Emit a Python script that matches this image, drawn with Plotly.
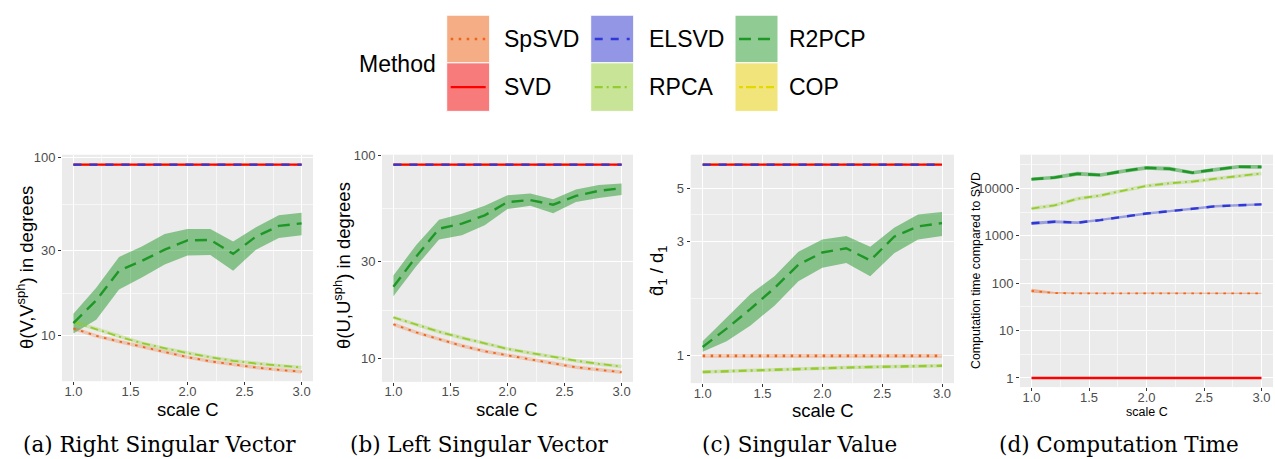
import plotly.graph_objects as go

W, H = 1275, 459

# ---------------- data ----------------
scale_C = [1.0, 1.2, 1.4, 1.6, 1.8, 2.0, 2.2, 2.4, 2.6, 2.8, 3.0]

x_ticks = [1.0, 1.5, 2.0, 2.5, 3.0]
x_tick_labels = ["1.0", "1.5", "2.0", "2.5", "3.0"]

# (a) Right singular vector angle (degrees)
a_svd = [91.0, 91.0, 91.0, 91.0, 91.0, 91.0, 91.0, 91.0, 91.0, 91.0, 91.0]
a_elsvd = [91.0, 91.0, 91.0, 91.0, 91.0, 91.0, 91.0, 91.0, 91.0, 91.0, 91.0]
a_cop = [91.0, 91.0, 91.0, 91.0, 91.0, 91.0, 91.0, 91.0, 91.0, 91.0, 91.0]
a_rpca = [12.0, 10.9, 9.9, 9.1, 8.5, 8.0, 7.6, 7.25, 7.0, 6.8, 6.65]
a_spsvd = [11.0, 10.0, 9.3, 8.7, 8.1, 7.6, 7.2, 6.9, 6.65, 6.45, 6.3]
a_r2pcp = [11.8, 15.8, 23.2, 26.3, 30.4, 34.3, 34.5, 28.8, 36.0, 41.3, 42.7]
a_r2pcp_lo = [10.3, 12.3, 18.2, 21.2, 25.1, 28.2, 28.4, 23.2, 30.4, 35.3, 36.6]
a_r2pcp_hi = [13.3, 18.6, 27.7, 31.7, 37.2, 39.7, 39.7, 33.8, 40.6, 47.4, 48.9]
a_ticks = [10, 30, 100]
a_tick_labels = ["10", "30", "100"]

# (b) Left singular vector angle (degrees)
b_svd = [90.0, 90.0, 90.0, 90.0, 90.0, 90.0, 90.0, 90.0, 90.0, 90.0, 90.0]
b_elsvd = [90.0, 90.0, 90.0, 90.0, 90.0, 90.0, 90.0, 90.0, 90.0, 90.0, 90.0]
b_cop = [90.0, 90.0, 90.0, 90.0, 90.0, 90.0, 90.0, 90.0, 90.0, 90.0, 90.0]
b_rpca = [16.0, 14.7, 13.6, 12.7, 11.9, 11.2, 10.7, 10.2, 9.8, 9.45, 9.17]
b_spsvd = [14.8, 13.5, 12.5, 11.6, 10.9, 10.4, 9.9, 9.5, 9.1, 8.85, 8.6]
b_r2pcp = [22.6, 31.8, 43.6, 46.2, 50.7, 58.9, 60.3, 57.2, 63.2, 66.9, 69.0]
b_r2pcp_lo = [20.3, 28.5, 38.6, 40.5, 45.3, 54.5, 56.5, 52.0, 58.9, 61.7, 63.9]
b_r2pcp_hi = [25.7, 36.3, 48.3, 51.6, 56.6, 63.6, 65.0, 60.9, 68.0, 71.4, 72.8]
b_ticks = [10, 30, 100]
b_tick_labels = ["10", "30", "100"]

# (c) Singular value ratio
c_svd = [6.28, 6.28, 6.28, 6.28, 6.28, 6.28, 6.28, 6.28, 6.28, 6.28, 6.28]
c_elsvd = [6.28, 6.28, 6.28, 6.28, 6.28, 6.28, 6.28, 6.28, 6.28, 6.28, 6.28]
c_cop = [6.28, 6.28, 6.28, 6.28, 6.28, 6.28, 6.28, 6.28, 6.28, 6.28, 6.28]
c_rpca = [0.857, 0.864, 0.871, 0.877, 0.883, 0.889, 0.894, 0.899, 0.903, 0.907, 0.91]
c_spsvd = [1.0, 1.0, 1.0, 1.0, 1.0, 1.0, 1.0, 1.0, 1.0, 1.0, 1.0]
c_r2pcp = [1.09, 1.30, 1.57, 1.92, 2.40, 2.70, 2.81, 2.50, 3.14, 3.47, 3.58]
c_r2pcp_lo = [1.04, 1.15, 1.34, 1.62, 2.05, 2.33, 2.44, 2.15, 2.68, 3.06, 3.16]
c_r2pcp_hi = [1.15, 1.45, 1.81, 2.15, 2.72, 3.06, 3.16, 2.85, 3.42, 3.89, 3.98]
c_ticks = [1, 3, 5]
c_tick_labels = ["1", "3", "5"]

# (d) Computation time relative to SVD
d_svd = [1.0, 1.0, 1.0, 1.0, 1.0, 1.0, 1.0, 1.0, 1.0, 1.0, 1.0]
d_spsvd = [69, 62, 61, 61, 60, 62, 62, 62, 61, 62, 61]
d_spsvd_lo = [63, 60, 59, 59, 58, 60, 60, 60, 59, 60, 59]
d_spsvd_hi = [76, 65, 64, 63, 63, 64, 64, 64, 63, 64, 63]
d_elsvd = [1840, 1990, 1900, 2150, 2530, 2960, 3310, 3720, 4210, 4420, 4630]
d_elsvd_lo = [1700, 1850, 1780, 2020, 2370, 2780, 3120, 3500, 3960, 4180, 4400]
d_elsvd_hi = [1990, 2140, 2030, 2290, 2700, 3150, 3510, 3950, 4470, 4680, 4880]
d_rpca = [3770, 4410, 6080, 7130, 9060, 11300, 12900, 14000, 16100, 18300, 20800]
d_r2pcp = [15700, 17000, 20500, 19200, 23300, 27400, 26100, 21500, 25200, 28700, 28500]
d_r2pcp_lo = [14500, 15600, 18600, 17600, 21300, 25000, 23700, 19800, 23200, 26300, 26000]
d_r2pcp_hi = [17000, 18500, 22500, 21000, 25500, 30000, 28700, 23400, 27400, 31300, 31200]
d_ticks = [1, 10, 100, 1000, 10000]
d_tick_labels = ["1", "10", "100", "1000", "10000"]

methods = ["SpSVD", "SVD", "ELSVD", "RPCA", "R2PCP", "COP"]
captions = ["(a) Right Singular Vector", "(b) Left Singular Vector",
            "(c) Singular Value", "(d) Computation Time"]

# ---------------- style ----------------
LINE = {"SpSVD": "#F0641A", "SVD": "#FF0000", "ELSVD": "#2F37D6",
        "RPCA": "#94CB2E", "R2PCP": "#1F9727", "COP": "#E5D800"}
BAND = {"SpSVD": "rgba(235,91,11,0.4)", "SVD": "rgba(255,0,0,0.5)",
        "ELSVD": "rgba(37,45,203,0.4)", "RPCA": "rgba(145,201,45,0.4)",
        "R2PCP": "rgba(31,151,39,0.5)", "COP": "rgba(225,201,0,0.5)"}
UNDER = {"SpSVD": "rgba(235,91,11,0.25)", "RPCA": "rgba(145,201,45,0.3)"}
KEYFILL = {"SpSVD": "#F5AD85", "SVD": "#F87B7B", "ELSVD": "#9396E5",
           "RPCA": "#C8E496", "R2PCP": "#8FCB93", "COP": "#F0E47A"}
DASH = {"SpSVD": "2.5px,5.5px", "SVD": "solid", "ELSVD": "8px,8px",
        "RPCA": "8px,4px,2px,4px", "R2PCP": "12px,7px", "COP": "4px,3px,10px,3px"}

SANS = "Liberation Sans, Arial, sans-serif"


def px(x):
    return x / W


def py(y):
    return 1 - y / H


fig = go.Figure()


def band(lo, hi, m, ax):
    fig.add_trace(go.Scatter(
        x=scale_C + scale_C[::-1], y=hi + lo[::-1], mode="lines",
        fill="toself", fillcolor=BAND[m], line=dict(width=0),
        xaxis="x" + ax, yaxis="y" + ax, hoverinfo="skip", showlegend=False))


def line(y, m, ax, width=2.0, under=False):
    if under:
        fig.add_trace(go.Scatter(
            x=scale_C, y=y, mode="lines",
            line=dict(color=UNDER[m], width=3.5),
            xaxis="x" + ax, yaxis="y" + ax, hoverinfo="skip", showlegend=False))
    fig.add_trace(go.Scatter(
        x=scale_C, y=y, mode="lines", name=m,
        line=dict(color=LINE[m], width=width, dash=DASH[m]),
        xaxis="x" + ax, yaxis="y" + ax, showlegend=False))


# panel a
band(a_r2pcp_lo, a_r2pcp_hi, "R2PCP", "")
line(a_cop, "COP", "")
line(a_svd, "SVD", "", 2.2)
line(a_elsvd, "ELSVD", "", 2.2)
line(a_rpca, "RPCA", "", 1.8, under=True)
line(a_spsvd, "SpSVD", "", 1.8, under=True)
line(a_r2pcp, "R2PCP", "", 2.4)

# panel b
band(b_r2pcp_lo, b_r2pcp_hi, "R2PCP", "2")
line(b_cop, "COP", "2")
line(b_svd, "SVD", "2", 2.2)
line(b_elsvd, "ELSVD", "2", 2.2)
line(b_rpca, "RPCA", "2", 1.8, under=True)
line(b_spsvd, "SpSVD", "2", 1.8, under=True)
line(b_r2pcp, "R2PCP", "2", 2.4)

# panel c
band(c_r2pcp_lo, c_r2pcp_hi, "R2PCP", "3")
line(c_cop, "COP", "3")
line(c_svd, "SVD", "3", 2.2)
line(c_elsvd, "ELSVD", "3", 2.2)
line(c_rpca, "RPCA", "3", 2.4, under=True)
line(c_spsvd, "SpSVD", "3", 2.6, under=True)
line(c_r2pcp, "R2PCP", "3", 2.4)

# panel d
band(d_spsvd_lo, d_spsvd_hi, "SpSVD", "4")
band(d_elsvd_lo, d_elsvd_hi, "ELSVD", "4")
band(d_r2pcp_lo, d_r2pcp_hi, "R2PCP", "4")
line(d_svd, "SVD", "4", 2.4)
line(d_spsvd, "SpSVD", "4", 1.8)
line(d_elsvd, "ELSVD", "4", 2.4)
line(d_rpca, "RPCA", "4", 1.8, under=True)
line(d_r2pcp, "R2PCP", "4", 2.6)

# ---------------- axes ----------------
panels = [
    ("", (62, 313), (150, 380), (0.746, 2.015), a_ticks, a_tick_labels, [17.32, 54.77]),
    ("2", (382, 633), (150, 380.7), (0.887, 2.003), b_ticks, b_tick_labels, [17.32, 54.77]),
    ("3", (690.7, 954), (150, 382), (-0.1137, 0.839), c_ticks, c_tick_labels, [1.732, 3.873]),
    ("4", (1020, 1273), (150, 386), (-0.193, 4.713), d_ticks, d_tick_labels,
     [3.162, 31.62, 316.2, 3162, 31623]),
]

tickfont = dict(family=SANS, size=13, color="#4D4D4D")
layout_axes = {}
for key, (x0, x1), (ytop, ybot), yr, yt, ytl, ymin in panels:
    layout_axes["xaxis" + key] = dict(
        domain=[px(x0), px(x1)], range=[0.9, 3.1], anchor="y" + key,
        tickmode="array", tickvals=x_ticks, ticktext=x_tick_labels,
        showgrid=True, gridcolor="white", gridwidth=1.1, zeroline=False,
        showline=False, ticks="outside", ticklen=3, tickwidth=1,
        tickcolor="#333333", tickfont=tickfont, ticklabelstandoff=-5,
        minor=dict(tickmode="array", tickvals=[1.25, 1.75, 2.25, 2.75],
                   showgrid=True, gridcolor="#F7F7F7", gridwidth=0.6, ticks=""),
    )
    layout_axes["yaxis" + key] = dict(
        type="log", domain=[py(ybot), py(ytop)], range=list(yr), anchor="x" + key,
        tickmode="array", tickvals=yt, ticktext=ytl,
        showgrid=True, gridcolor="white", gridwidth=1.1, zeroline=False,
        showline=False, ticks="outside", ticklen=3, tickwidth=1,
        tickcolor="#333333", tickfont=tickfont,
        minor=dict(tickmode="array", tickvals=ymin,
                   showgrid=True, gridcolor="#F7F7F7", gridwidth=0.6, ticks=""),
    )

annotations = []
shapes = []


def text(x, y, s, size, family=SANS, angle=0, anchor="center", color="black"):
    annotations.append(dict(
        x=px(x), y=py(y), xref="paper", yref="paper", text=s, showarrow=False,
        xanchor=anchor, yanchor="middle", textangle=angle,
        font=dict(family=family, size=size, color=color)))


# axis titles
text(187.5, 408.5, "scale C", 18.5)
text(507.5, 408.5, "scale C", 18.5)
text(822.5, 410, "scale C", 18.5)
text(1146.7, 411, "scale C", 12.5)
text(25, 265, "θ(V,V<sup>sph</sup>) in degrees", 18.5, angle=-90)
text(342, 263, "θ(U,U<sup>sph</sup>) in degrees", 18.5, angle=-90)
text(658, 268, "d\u0302<sub>1</sub> / d<sub>1</sub>", 18.5, angle=-90)
text(976, 268, "Computation time compared to SVD", 12.3, angle=-90)

# captions
for cx, cap in zip([159, 479, 799, 1119], captions):
    text(cx, 444, cap, 21.5, family="DejaVu Serif, serif")

# legend (ggplot-style keys)
text(357, 58, "Method", 23, anchor="left")
key_cols = [446.7, 590.7, 735.0]
label_x = [502, 646.7, 786.7]
rows = [(8.3, 56.7), (56.7, 106.0)]
for i, m in enumerate(methods):
    col, row = i // 2, i % 2
    x0 = key_cols[col]
    y0, y1 = rows[row]
    shapes.append(dict(type="rect", xref="paper", yref="paper",
                       x0=px(x0), x1=px(x0 + 43), y0=py(y1), y1=py(y0),
                       fillcolor=KEYFILL[m], line=dict(color="white", width=1),
                       layer="above"))
    yc = (y0 + y1) / 2
    shapes.append(dict(type="line", xref="paper", yref="paper",
                       x0=px(x0 + 4), x1=px(x0 + 39), y0=py(yc), y1=py(yc),
                       line=dict(color=LINE[m], width=2.4, dash=DASH[m]),
                       layer="above"))
    text(label_x[col], yc, m, 23, anchor="left")

fig.update_layout(
    width=W, height=H, margin=dict(l=0, r=0, t=0, b=0),
    paper_bgcolor="white", plot_bgcolor="#EBEBEB", showlegend=False,
    annotations=annotations, shapes=shapes, **layout_axes)

fig.write_html("out.html")
